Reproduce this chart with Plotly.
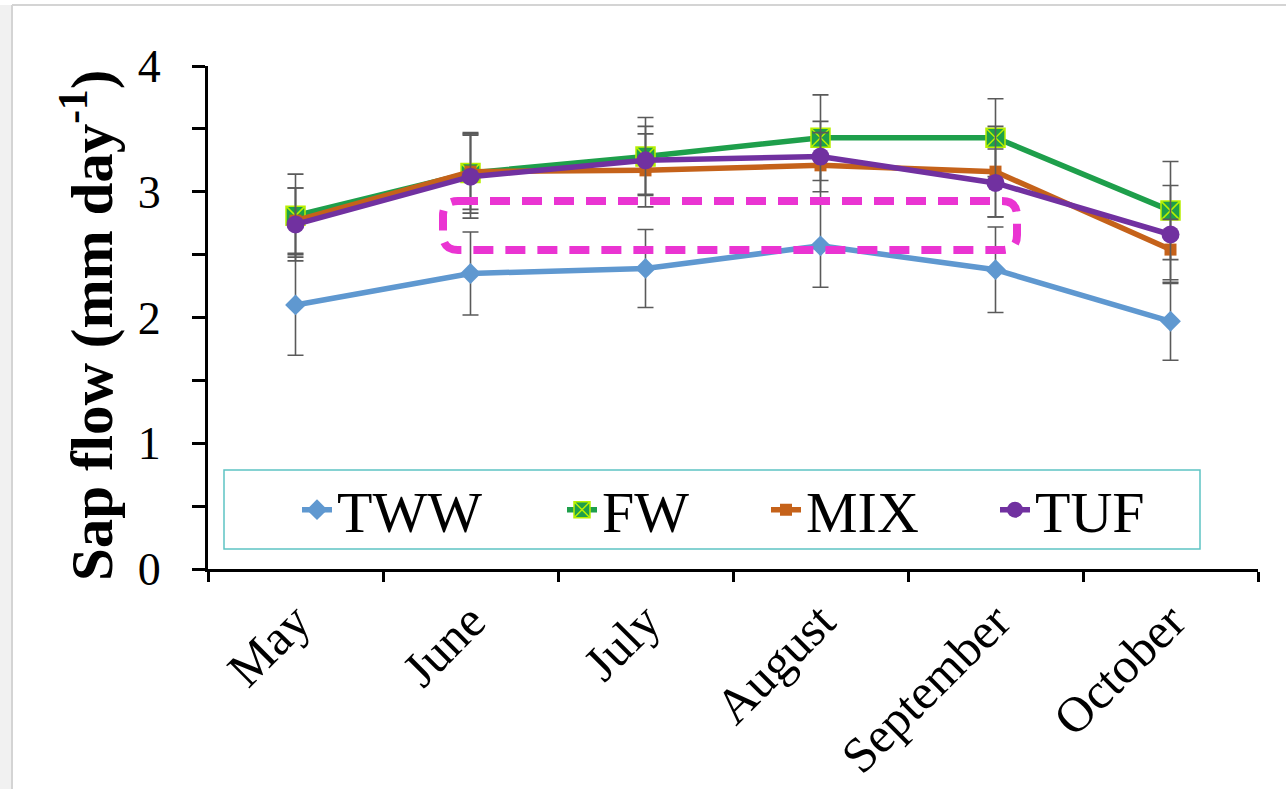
import plotly.graph_objects as go

# ---------------- data ----------------
months = ["May", "June", "July", "August", "September", "October"]

tww = [2.10, 2.35, 2.39, 2.57, 2.38, 1.97]
tww_err = [0.40, 0.33, 0.31, 0.33, 0.34, 0.31]

fw = [2.81, 3.15, 3.28, 3.43, 3.43, 2.85]
fw_err = [0.33, 0.32, 0.31, 0.34, 0.31, 0.39]

mix = [2.77, 3.16, 3.17, 3.21, 3.16, 2.54]
mix_err = [0.26, 0.30, 0.29, 0.26, 0.36, 0.24]

tuf = [2.74, 3.12, 3.25, 3.28, 3.07, 2.66]
tuf_err = [0.29, 0.33, 0.27, 0.28, 0.27, 0.39]

y_ticks = [0, 1, 2, 3, 4]
y_ticktext = ["0", "1", "2", "3", "4"]

# ---------------- layout geometry (pixels) ----------------
W, H = 1286, 789
L, R, T, B = 208, 28, 66, 220
PW, PH = W - L - R, H - T - B


def px(x):
    return (x - L) / PW


def py(y):
    return (H - B - y) / PH


FONT = "Liberation Serif"
ERR = "#5a5a5a"

series = [
    dict(name="TWW", y=tww, e=tww_err, color="#5F98D0",
         marker=dict(symbol="diamond", size=16, color="#5F98D0")),
    dict(name="FW", y=fw, e=fw_err, color="#1E9F4B",
         marker=dict(symbol="square-x", size=19, color="#1E9F4B",
                     line=dict(color="#B8F000", width=1.5))),
    dict(name="MIX", y=mix, e=mix_err, color="#C5621A",
         marker=dict(symbol="square", size=12, color="#C5621A")),
    dict(name="TUF", y=tuf, e=tuf_err, color="#7131A0",
         marker=dict(symbol="circle", size=18, color="#7131A0")),
]

legend_names = ["legend", "legend2", "legend3", "legend4"]
legend_text_x = [337, 602, 806, 1035]

fig = go.Figure()
for s, lg in zip(series, legend_names):
    fig.add_trace(go.Scatter(
        x=months, y=s["y"], name=s["name"], mode="lines+markers",
        line=dict(color=s["color"], width=5.5),
        marker=s["marker"],
        error_y=dict(type="data", array=s["e"], color=ERR, thickness=1.6, width=8),
        legend=lg,
    ))

legend_common = dict(
    orientation="h", yanchor="middle", xanchor="left",
    bgcolor="rgba(0,0,0,0)", borderwidth=0,
    font=dict(family=FONT, size=58, color="black"),
)
legends = {}
for lg, tx in zip(legend_names, legend_text_x):
    legends[lg] = dict(legend_common, x=px(tx - 40), y=py(510))

# rounded dashed highlight box
xl, xr, yt, yb, r = 443, 1017, 201, 250, 15
path = (
    f"M {px(xl + r)},{py(yt)} L {px(xr - r)},{py(yt)} "
    f"Q {px(xr)},{py(yt)} {px(xr)},{py(yt + r)} "
    f"L {px(xr)},{py(yb - r)} Q {px(xr)},{py(yb)} {px(xr - r)},{py(yb)} "
    f"L {px(xl + r)},{py(yb)} Q {px(xl)},{py(yb)} {px(xl)},{py(yb - r)} "
    f"L {px(xl)},{py(yt + r)} Q {px(xl)},{py(yt)} {px(xl + r)},{py(yt)} Z"
)

shapes = [
    # page frame decoration
    dict(type="rect", xref="paper", yref="paper", x0=px(0), x1=px(11), y0=py(H), y1=py(5),
         fillcolor="#f1f1f1", line=dict(width=0), layer="below"),
    dict(type="line", xref="paper", yref="paper", x0=px(12), x1=px(W), y0=py(5), y1=py(5),
         line=dict(color="#d4d4d4", width=2)),
    dict(type="line", xref="paper", yref="paper", x0=px(12), x1=px(12), y0=py(5), y1=py(H),
         line=dict(color="#d4d4d4", width=2)),
    # legend frame
    dict(type="rect", xref="paper", yref="paper", x0=px(224), x1=px(1200), y0=py(549), y1=py(470),
         line=dict(color="#5EC4C4", width=1.5), fillcolor="rgba(0,0,0,0)"),
    # magenta highlight
    dict(type="path", xref="paper", yref="paper", path=path,
         line=dict(color="#EA34D2", width=8, dash="20px,12px")),
]

fig.update_layout(
    width=W, height=H,
    margin=dict(l=L, r=R, t=T, b=B, autoexpand=False),
    paper_bgcolor="white", plot_bgcolor="white",
    font=dict(family=FONT, color="black"),
    showlegend=True,
    shapes=shapes,
    annotations=[dict(
        xref="paper", yref="paper", x=px(88), y=py(326),
        text="<b>Sap flow (mm day<sup>-1</sup>)</b>", textangle=-90,
        showarrow=False, font=dict(family=FONT, size=59, color="black"),
        xanchor="center", yanchor="middle",
    )],
    **legends,
)

fig.update_xaxes(
    type="category", range=[-0.5, 5.5], showgrid=False, zeroline=False,
    showline=True, linecolor="black", linewidth=3,
    ticks="outside", tickson="boundaries", ticklen=10, tickwidth=3, tickcolor="black",
    tickangle=-45, tickfont=dict(family=FONT, size=50, color="black"),
)
fig.update_yaxes(
    range=[0, 4], showgrid=False, zeroline=False,
    showline=True, linecolor="black", linewidth=3,
    ticks="outside", ticklen=13, tickwidth=3, tickcolor="black",
    tickvals=y_ticks, ticktext=y_ticktext, ticklabelstandoff=22,
    minor=dict(dtick=0.5, ticks="outside", ticklen=13, tickwidth=3, tickcolor="black",
               showgrid=False),
    tickfont=dict(family=FONT, size=46, color="black"),
)

fig.write_html("out.html")
